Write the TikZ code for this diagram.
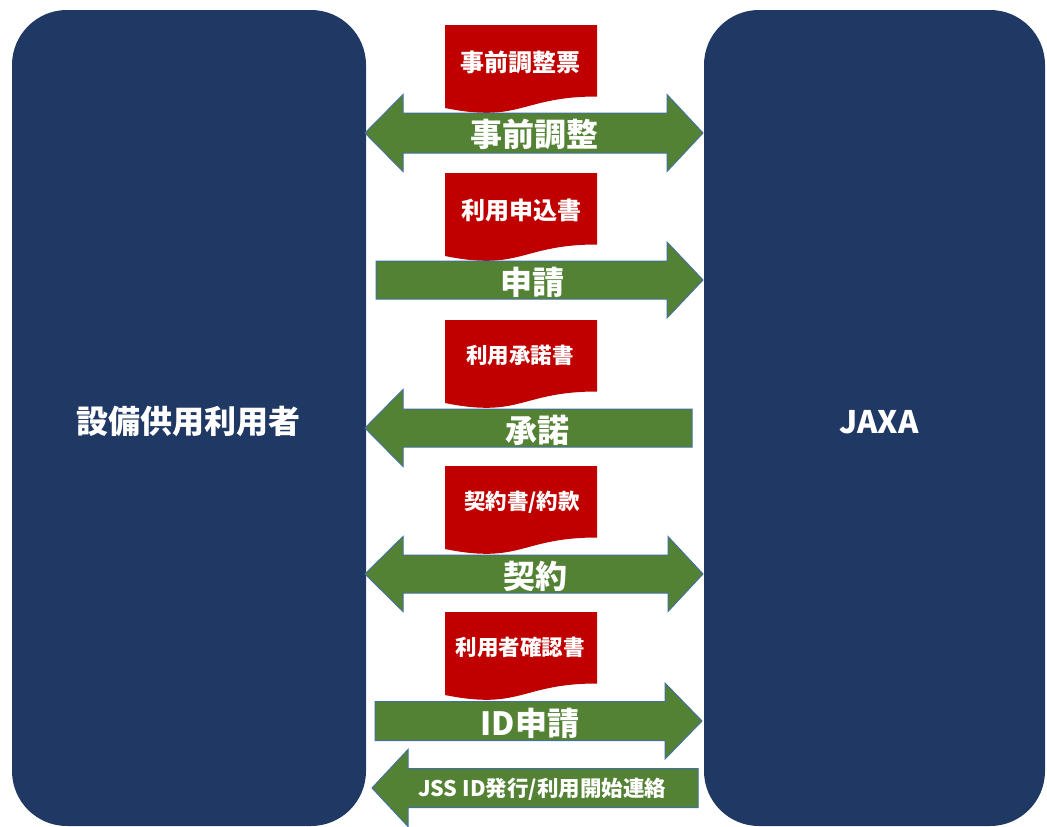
\documentclass[tikz,border=0pt]{standalone}
\usepackage{fontspec}
\setmainfont{Noto Sans CJK JP}
\definecolor{navy}{HTML}{203864}
\definecolor{agreen}{HTML}{548235}
\definecolor{aborder}{HTML}{41719C}
\definecolor{docred}{HTML}{C00000}
\tikzset{
  party/.style={fill=navy, draw=none, rounded corners=55pt},
  blockarrow/.style={fill=agreen, draw=aborder, line width=1pt, line join=miter},
  doc/.style={fill=docred, draw=none},
  bigtxt/.style={text=white, font=\fontsize{32}{32}\selectfont\bfseries, inner sep=0pt},
  doctxt/.style={text=white, font=\fontsize{24}{24}\selectfont\bfseries, inner sep=0pt},
  docsmall/.style={text=white, font=\fontsize{21.5}{21.5}\selectfont\bfseries, inner sep=0pt},
  smalltxt/.style={text=white, font=\fontsize{21.5}{21.5}\selectfont\bfseries, inner sep=0pt},
}
% double arrow: xl tip, xl base, xr base, xr tip, yc, shaft half, head half
\newcommand{\dblarrow}[7]{%
  \path[blockarrow] (#1,#5) -- (#2,#5-#7) -- (#2,#5-#6) -- (#3,#5-#6) -- (#3,#5-#7) -- (#4,#5)
    -- (#3,#5+#7) -- (#3,#5+#6) -- (#2,#5+#6) -- (#2,#5+#7) -- cycle;}
% right arrow: shaft left, base, tip, yc, shaft half, head half
\newcommand{\rarrow}[6]{%
  \path[blockarrow] (#1,#4-#5) -- (#2,#4-#5) -- (#2,#4-#6) -- (#3,#4) -- (#2,#4+#6)
    -- (#2,#4+#5) -- (#1,#4+#5) -- cycle;}
% left arrow: tip, base, shaft right, yc, shaft half, head half
\newcommand{\larrow}[6]{%
  \path[blockarrow] (#1,#4) -- (#2,#4-#6) -- (#2,#4-#5) -- (#3,#4-#5) -- (#3,#4+#5)
    -- (#2,#4+#5) -- (#2,#4+#6) -- cycle;}
% document: top y
\newcommand{\docshape}[1]{%
  \path[doc] (445,#1) -- (597,#1) -- (597,#1+71.5)
    .. controls (521,#1+71.5) and (521,#1+98.5) .. (445,#1+83) -- cycle;}
\begin{document}
\begin{tikzpicture}[x=1pt,y=-1pt]
\useasboundingbox (0,0) rectangle (1047,827);
\fill[white] (0,0) rectangle (1047,827);
% parties
\path[party] (12,10) rectangle (366,826);
\path[party] (704,10) rectangle (1045,826);
\node[bigtxt] (user) at (188,421) {設備供用利用者};
\node[bigtxt, font=\fontsize{31}{31}\selectfont\bfseries] (jaxa) at (879,422) {JAXA};
% documents
\docshape{25}
\node[doctxt] (d1) at (520,62) {事前調整票};
\docshape{173}
\node[doctxt] (d2) at (521,210) {利用申込書};
\docshape{320}
\node[docsmall] (d3) at (520,355) {利用承諾書};
\docshape{466}
\node[docsmall] (d4) at (522,502) {契約書/約款};
\docshape{612}
\node[docsmall] (d5) at (520,647) {利用者確認書};
% arrows
\dblarrow{365}{403}{667}{703}{133}{20}{38.5}
\node[bigtxt] (a1) at (534,134) {事前調整};
\rarrow{376}{667}{703}{280}{19}{38}
\node[bigtxt] (a2) at (532,282) {申請};
\larrow{365}{403}{692}{428}{19}{38.5}
\node[bigtxt] (a3) at (537,430) {承諾};
\dblarrow{365}{403}{668}{703}{574}{19}{37.5}
\node[bigtxt] (a4) at (535,576) {契約};
\rarrow{375}{665}{702}{721}{19.5}{38}
\node[bigtxt] (a5) at (530,723) {ID申請};
\larrow{372}{408}{698}{788}{19.5}{38.5}
\node[smalltxt] (a6) at (542,789) {JSS ID発行/利用開始連絡};
\end{tikzpicture}
\end{document}
